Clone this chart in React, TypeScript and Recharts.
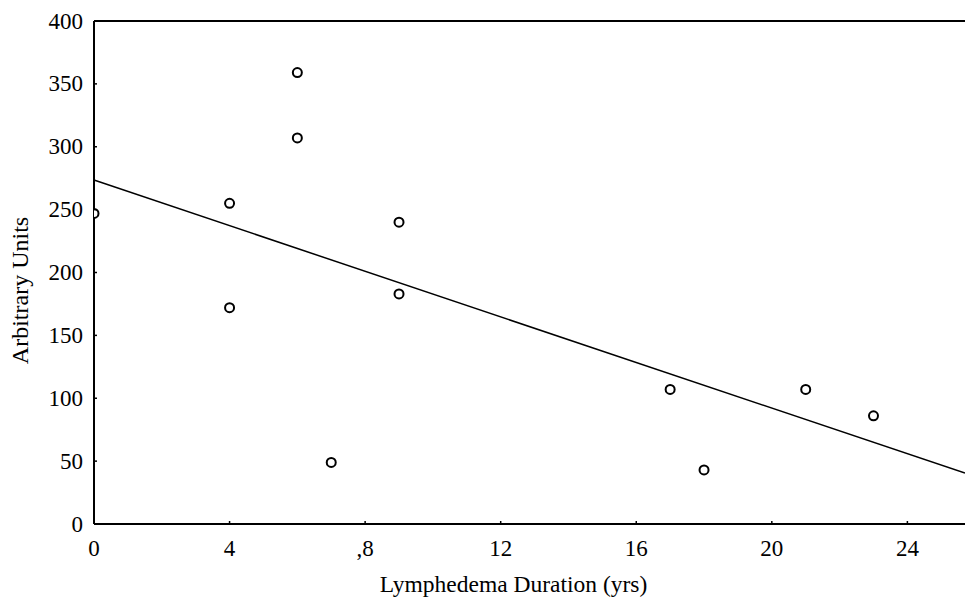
import React from "react";
import { ComposedChart, Scatter, XAxis, YAxis, ReferenceLine, Label } from "recharts";

const durationYrs = [0, 4, 4, 6, 6, 7, 9, 9, 17, 18, 21, 23];
const arbitraryUnits = [247, 255, 172, 359, 307, 49, 240, 183, 107, 43, 107, 86];
const fitX = [0, 25.7];
const fitY = [273.5, 40.5];
const xTicks = [0, 4, 8, 12, 16, 20, 24];
const xTickLabels = ["0", "4", ",8", "12", "16", "20", "24"];
const yTicks = [0, 50, 100, 150, 200, 250, 300, 350, 400];

const points = durationYrs.map((x, i) => ({ x, y: arbitraryUnits[i] }));
const FONT = "'Liberation Serif', 'Times New Roman', serif";

const YTick = (props: any) => {
  const { x, y, payload } = props;
  return (
    <g>
      <line x1={x + 11} x2={x + 14} y1={y} y2={y} stroke="#000" strokeWidth={1.5} />
      <text x={x} y={y} textAnchor="end" dominantBaseline="central" fontFamily={FONT} fontSize={23} fill="#000">
        {payload.value}
      </text>
    </g>
  );
};

const XTick = (props: any) => {
  const { x, y, payload } = props;
  const idx = xTicks.indexOf(payload.value);
  return (
    <g>
      <line x1={x} x2={x} y1={y - 16} y2={y - 19} stroke="#000" strokeWidth={1.5} />
      <text x={x} y={y} dy="0.71em" textAnchor="middle" fontFamily={FONT} fontSize={23} fill="#000">
        {idx >= 0 ? xTickLabels[idx] : payload.value}
      </text>
    </g>
  );
};

const Dot = (props: any) => {
  const { cx, cy } = props;
  return <circle cx={cx} cy={cy} r={4.5} fill="#fff" stroke="#000" strokeWidth={2} />;
};

const YLabel = (props: any) => {
  const vb = props.viewBox || {};
  const cx = 20;
  const cy = vb.y + vb.height / 2 + 18;
  return (
    <text x={cx} y={cy} transform={`rotate(-90, ${cx}, ${cy})`} textAnchor="middle" dominantBaseline="central" fontFamily={FONT} fontSize={24} fill="#000">
      Arbitrary Units
    </text>
  );
};

export default function App() {
  return (
    <div style={{ position: "absolute", left: 0, top: 0, background: "#fff" }}>
      <ComposedChart width={965} height={599} margin={{ top: 21, right: 0, left: 0, bottom: 0 }}>
        <XAxis
          type="number"
          dataKey="x"
          domain={[0, 25.7]}
          ticks={xTicks}
          allowDataOverflow
          tickSize={0}
          tickMargin={16}
          tickLine={false}
          tick={<XTick />}
          axisLine={{ stroke: "#000", strokeWidth: 2 }}
          height={75}
        >
          <Label
            value="Lymphedema Duration (yrs)"
            position="insideBottom"
            offset={7}
            dx={-16}
            style={{ fontFamily: FONT, fontSize: 23.5, fill: "#000" }}
          />
        </XAxis>
        <YAxis
          type="number"
          dataKey="y"
          domain={[0, 400]}
          ticks={yTicks}
          allowDataOverflow
          tickSize={0}
          tickMargin={11}
          tickLine={false}
          tick={<YTick />}
          axisLine={{ stroke: "#000", strokeWidth: 2 }}
          width={94}
        >
          <Label content={<YLabel />} />
        </YAxis>
        <ReferenceLine y={400} stroke="#000" strokeWidth={2} />
        <ReferenceLine
          segment={[
            { x: fitX[0], y: fitY[0] },
            { x: fitX[1], y: fitY[1] },
          ]}
          stroke="#000"
          strokeWidth={1.5}
        />
        <Scatter data={points} dataKey="y" shape={<Dot />} isAnimationActive={false} />
      </ComposedChart>
    </div>
  );
}
